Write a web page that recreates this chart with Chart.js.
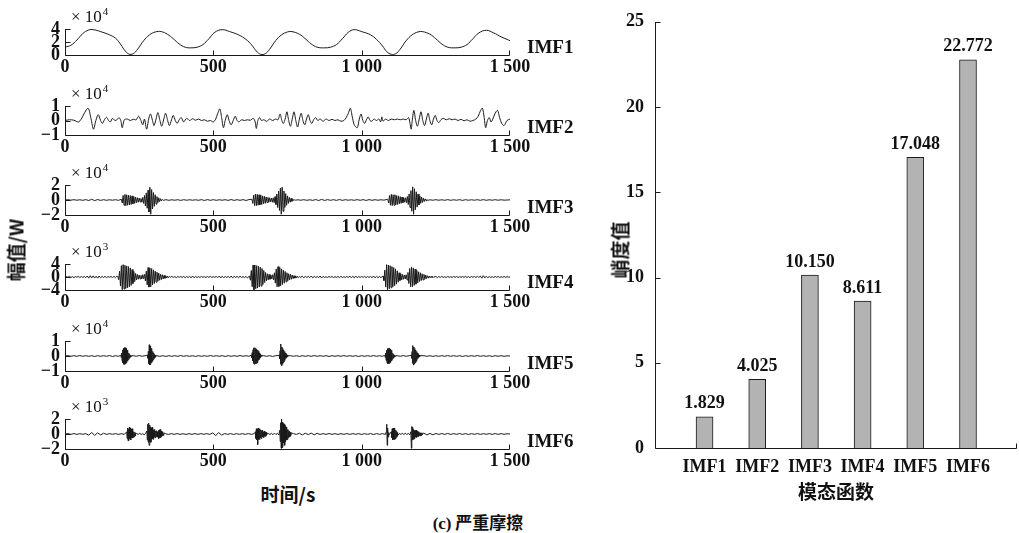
<!DOCTYPE html>
<html>
<head>
<meta charset="utf-8">
<script src="https://cdn.jsdelivr.net/npm/chart.js@4.4.1/dist/chart.umd.min.js"></script>
<style>
  body { margin: 0; background: #fff; width: 1019px; height: 533px; position: relative; overflow: hidden; }
  canvas { position: absolute; }
  .lbl { position: absolute; font-family: 'Noto Sans CJK SC', sans-serif; font-weight: bold; color: #111; white-space: nowrap; line-height: 1; }
  .lbl .en { font-family: 'Liberation Serif', serif; }
</style>
</head>
<body>
<div id="panels"></div>
<canvas id="bar" width="429" height="533" style="left:590px;top:0"></canvas>
<div class="lbl" style="font-size:19px;left:15px;top:250px;transform:translate(-50%,-50%) rotate(-90deg)">幅值/W</div>
<div class="lbl" style="font-size:19px;left:288px;top:493px;transform:translate(-50%,-50%)">时间/s</div>
<div class="lbl" style="font-size:17px;left:478px;top:522px;transform:translate(-50%,-50%)"><span class="en">(c)</span> 严重摩擦</div>
<div class="lbl" style="font-size:19px;left:619px;top:250px;transform:translate(-50%,-50%) rotate(-90deg)">峭度值</div>
<div class="lbl" style="font-size:19px;left:836px;top:490px;transform:translate(-50%,-50%)">模态函数</div>
<script>
// right: kurtosis of each IMF
const imfNames = ['IMF1', 'IMF2', 'IMF3', 'IMF4', 'IMF5', 'IMF6'];
const kurtosis = [1.829, 4.025, 10.150, 8.611, 17.048, 22.772];
const kurtTicks = [0, 5, 10, 15, 20, 25];

// left: time axis
const timeTicks = [0, 500, 1000, 1500];
const timeLabels = ['0', '500', '1 000', '1 500'];

// IMF1 (x10^4)
const imf1T = [0,20,40,60,80,95,120,150,170,185,200,215,230,245,265,285,305,325,345,365,385,405,425,445,465,485,505,530,555,585,610,630,645,660,675,690,710,730,750,765,790,810,830,850,875,895,915,935,955,975,1000,1030,1050,1070,1085,1100,1115,1130,1150,1170,1190,1205,1230,1250,1270,1290,1315,1335,1355,1375,1395,1420,1445,1470,1490,1500];
const imf1V = [1.2,1.5,2.3,3.3,3.85,3.9,3.6,3.1,2.6,1.8,0.8,0.15,0.2,0.9,2.2,3.1,3.55,3.6,3.2,2.5,1.7,1.2,1.1,1.2,1.6,2.5,3.5,3.9,3.6,3.1,2.4,1.5,0.6,0.1,0.2,0.9,2.2,3.1,3.55,3.6,3.2,2.5,1.7,1.2,1.1,1.2,1.6,2.5,3.5,3.9,3.6,3.1,2.4,1.4,0.5,0.1,0.2,0.9,2.2,3.1,3.55,3.6,3.2,2.5,1.7,1.2,1.1,1.2,1.6,2.5,3.4,3.8,3.4,2.8,2.4,2.2];

// IMF2 (x10^4)
const imf2T = [0,15,30,45,55,65,78,88,96,104,112,120,126,133,140,147,153,160,168,175,182,188,193,200,210,220,230,240,248,256,262,268,275,282,288,295,300,307,313,320,326,333,339,346,352,359,365,372,378,385,392,400,410,420,430,440,450,460,470,480,490,500,508,515,522,528,534,540,547,553,560,567,574,580,586,595,605,615,625,635,641,645,650,656,662,670,680,690,700,710,718,725,731,736,742,748,754,760,766,772,778,784,790,796,802,808,814,820,826,832,838,845,852,860,870,880,890,900,910,920,930,940,948,955,962,968,975,985,992,998,1004,1010,1016,1022,1028,1034,1042,1050,1058,1064,1068,1072,1080,1090,1100,1110,1120,1130,1140,1150,1158,1163,1167,1171,1176,1182,1188,1194,1200,1206,1212,1218,1224,1230,1236,1242,1248,1254,1260,1267,1275,1285,1295,1305,1315,1325,1335,1345,1355,1365,1375,1385,1393,1400,1407,1413,1418,1424,1430,1436,1442,1450,1458,1465,1472,1480,1490,1500];
const imf2V = [0,0.05,0.02,-0.1,0.1,0.5,0.85,0.1,-0.6,0,0.4,0,-0.2,0.05,0.22,0,-0.1,0.15,0,0.05,0.2,0,-0.5,0.05,0.1,0,0.08,0.05,0.3,0,-0.3,0.1,-0.6,0.1,0.45,0,-0.35,0.1,0.55,0,-0.4,0.1,0.5,0,-0.35,0.05,0.35,0,-0.2,0.05,0.2,-0.1,0.15,0,0.12,0.02,0.1,0,0.05,-0.05,0,-0.1,0.1,0.5,0.8,0.2,-0.5,0,0.4,0,-0.3,0,0.3,0,-0.1,0.05,0,0.05,0.02,0.15,-0.1,-0.55,0,0.2,0,0.05,-0.05,0.1,0,0.1,0.05,0.45,0,-0.2,0.1,0.6,0,-0.4,0.1,0.6,0,-0.45,0.1,0.5,0,-0.3,0.1,0.4,0,-0.2,0.05,0.2,0,0.1,-0.05,0.1,0,0.08,0,0.05,-0.05,0,0.2,0.5,0.85,0.3,-0.3,-0.5,0.1,0.45,0,-0.2,0.05,0.25,0,-0.05,0.1,0,0.1,-0.1,0.25,-0.05,0.1,0,0.1,0.05,0.1,0.05,0.1,0.05,0.2,-0.2,-0.6,0.1,0.7,0,-0.4,0.1,0.6,0,-0.35,0.1,0.5,0,-0.3,0.1,0.35,0,-0.15,0.05,0.15,0.05,0.12,0.05,0.1,0,0.08,-0.02,0.05,-0.05,0,0.1,0.3,0.65,0.85,0.2,-0.5,0,0.2,-0.1,0.1,0.5,0.7,0.2,-0.2,-0.35,0,0.1];

// IMF3..IMF6: [start time, sample step, values]
const imf3Segs = [
  [0, 10, [0,.03,-.02,.04,-.03,.03,-.04,.05,-.07,.09,-.08,.06,-.05,.04,-.04,.03,-.03,.04,-.05]],
  [190, 3, [.1,-.4,.6,-.7,.75,-.75,.7,-.7,.65,-.65,.6,-.6,.55,-.5,.45,-.45,.4,-.35,.3,-.3,.25,-.25,.2,-.3,.35,-.45,.6,-.8,.95,-1.1,1.3,-1.6,1.7,-1.9,1.4,-1.2,1,-.85,.7,-.55,.45,-.35,.3,-.22,.17,-.12,.08,-.05]],
  [340, 10, [.04,-.04,.03,-.03,.04,-.05,.04,-.03,.03,-.03,.03,-.04,.05,-.06,.05,-.04,.04,-.04,.03,-.03,.04,-.05,.06,-.05,.04,-.04,.05,-.06,.05]],
  [630, 3, [.1,-.45,.65,-.75,.8,-.75,.75,-.7,.7,-.65,.65,-.6,.55,-.5,.5,-.45,.4,-.35,.35,-.3,.3,-.25,.25,-.3,.3,-.35,.45,-.6,.8,-1,1.2,-1.4,1.6,-1.9,1.7,-1.5,1.2,-1,.85,-.7,.55,-.45,.35,-.3,.22,-.18,.12,-.08,.05,-.03]],
  [785, 10, [.03,-.03,.04,-.04,.03,-.05,.06,-.07,.08,-.06,.05,-.04,.04,-.05,.06,-.05,.04,-.03,.03,-.04,.05,-.04,.05,-.06,.05,-.04,.04,-.03,.03,-.02]],
  [1088, 3, [.1,-.4,.6,-.7,.75,-.75,.7,-.7,.7,-.65,.6,-.6,.55,-.5,.45,-.45,.4,-.35,.3,-.3,.3,-.35,.45,-.6,.8,-1,1.25,-1.5,1.75,-1.9,1.5,-1.3,1.1,-.95,.8,-.65,.55,-.45,.4,-.32,.26,-.2,.15,-.1,.07,-.05]],
  [1230, 10, [.03,-.03,.04,-.03,.03,-.04,.05,-.04,.03,-.03,.04,-.05,.04,-.03,.03,-.03,.04,-.04,.05,-.04,.03,-.03,.04,-.03,.03,-.02,0,.02]]
];
const imf4Segs = [
  [0, 5, [0,.15,-.1,.2,-.15,.1,-.2,.15,-.1,.2,-.15,.1,-.1,.15,-.2,.3,-.35,.4,-.3,.35,-.3,.25,-.35,.3,-.25,.2,-.15,.2,-.2,.15,-.1,.15,-.15,.2,-.2,.25]],
  [178, 3, [.2,-.8,1.8,-2.8,3.5,-3.9,3.8,-3.7,3.6,-3.5,3.4,-3.3,3.2,-3,2.8,-2.6,2.3,-2,1.7,-1.4,1.1,-.9,.8,-.7,.6,-.6,.5,-.6,.7,-.5,.8,-1.2,1.8,-2.4,2.9,-3.1,2.8,-3,2.6,-2.4,2.2,-2,1.8,-1.6,1.5,-1.3,1.2,-1,.9,-.8,.7,-.6,.5,-.4,.35,-.3,.25,-.2,.15,-.1]],
  [360, 5, [.2,-.15,.15,-.2,.15,-.1,.15,-.15,.2,-.2,.15,-.15,.2,-.25,.3,-.25,.2,-.2,.15,-.15,.15,-.1,.1,-.15,.15,-.1,.15,-.15,.1,-.1,.15,-.2,.3,-.3,.25,-.2,.15,-.15,.2,-.25,.3,-.25,.2,-.15,.2,-.25,.3,-.2,.15,-.2,.2,-.3]],
  [622, 3, [.3,-1,2,-3,3.7,-3.9,3.7,-3.6,3.5,-3.4,3.3,-3.1,3,-2.8,2.6,-2.3,2,-1.7,1.4,-1.2,1,-.9,.8,-.7,.6,-.6,.7,-.9,1.3,-1.9,2.5,-3,3.2,-2.9,2.9,-2.7,2.5,-2.3,2.1,-1.9,1.7,-1.5,1.3,-1.2,1,-.9,.8,-.7,.6,-.5,.4,-.35,.3,-.25,.2,-.15,.1,-.1]],
  [800, 5, [.2,-.25,.2,-.15,.2,-.2,.3,-.25,.2,-.15,.15,-.2,.3,-.3,.2,-.15,.1,-.15,.15,-.1,.15,-.15,.1,-.1,.15,-.15,.2,-.15,.1,-.15,.2,-.2,.3,-.25,.2,-.25,.3,-.2,.15,-.15,.2,-.15,.2,-.2,.15,-.15,.2,-.25,.3,-.25,.2,-.2,.15,-.2]],
  [1072, 3, [.3,-1.1,2.1,-3.1,3.8,-3.9,3.7,-3.6,3.5,-3.3,3.2,-3,2.9,-2.7,2.5,-2.2,1.9,-1.6,1.3,-1.1,1,-.9,.8,-.7,.6,-.6,.7,-.9,1.4,-2,2.6,-3,3.1,-3,2.8,-2.6,2.4,-2.2,2,-1.8,1.6,-1.4,1.3,-1.1,1,-.9,.8,-.7,.6,-.5,.4,-.35,.3,-.25,.2,-.15,.1,-.1]],
  [1250, 5, [.2,-.2,.15,-.15,.2,-.15,.1,-.15,.15,-.1,.1,-.15,.15,-.1,.15,-.15,.1,-.1,.15,-.15,.2,-.15,.15,-.2,.15,-.1,.15,-.15,.2,-.15,.3,-.35,.4,-.3,.25,-.2,.15,-.15,.1,-.15,.15,-.1,.15,-.15,.1,-.1,.15,-.1,.1,-.05,0]]
];
const imf5Quiet = [.02,-.02,.02,-.03,.02,-.02,.02,-.02,.03,-.02,.02,-.02,.02,-.03,.02,-.02,.02,-.02,.03,-.02,.02,-.02,.02,-.03,.02,-.02,.02,-.02,.03,-.02,.02,-.02];
const imf5Segs = [
  [0, 10, [0,.02,-.02,.02,-.02,.03,-.02,.02,-.02,.02,-.03,.02,-.02,.02,-.02,.03,-.03,.02,-.02]],
  [188, 1.5, [.05,-.1,.2,-.3,.4,-.45,.5,-.55,.55,-.55,.55,-.5,.5,-.45,.4,-.35,.3,-.25,.2,-.15,.1,-.08,.05,-.03,.02]],
  [230, 10, [.02,-.02,.03,-.02,.02]],
  [278, 1.5, [.05,-.15,.3,-.5,.75,-.6,.65,-.55,.5,-.45,.4,-.35,.3,-.25,.2,-.15,.1,-.08,.06,-.04,.02]],
  [310, 10, imf5Quiet],
  [628, 1.5, [.05,-.12,.22,-.32,.42,-.5,.55,-.55,.55,-.5,.5,-.5,.45,-.45,.4,-.35,.3,-.25,.2,-.15,.1,-.08,.05,-.03,.02]],
  [670, 10, [.02,-.02,.02,-.03,.02]],
  [722, 1.5, [.05,-.2,.35,-.55,.8,-.65,.6,-.55,.5,-.45,.4,-.35,.3,-.25,.2,-.15,.1,-.08,.06,-.04,.02]],
  [760, 10, imf5Quiet],
  [1078, 1.5, [.05,-.1,.2,-.3,.38,-.45,.5,-.5,.5,-.5,.5,-.48,.45,-.42,.38,-.33,.28,-.22,.18,-.14,.1,-.07,.05,-.03,.02]],
  [1120, 10, [.02,-.02,.03,-.02,.02]],
  [1167, 1.5, [.05,-.15,.3,-.5,.7,-.6,.6,-.5,.5,-.45,.4,-.35,.3,-.25,.2,-.15,.1,-.08,.06,-.04,.02]],
  [1210, 10, [.02,-.02,.02,-.03,.02,-.02,.02,-.02,.03,-.02,.02,-.02,.02,-.03,.02,-.02,.02,-.02,.03,-.02,.02,-.02,.02,-.03,.02,-.02,.02,-.02,.01,0]]
];
const imf6Segs = [
  [0, 10, [0,.05,-.05,.06,-.05,.05,-.04,.05,-.15,.2,-.18,.15,-.12,.1,-.05,.05,-.04,.05,-.05,.04,-.05]],
  [208, 1.5, [.3,-.6,.8,-.9,.7,-.85,.9,-.6,.75,-.8,.6,-.5,.7,-.55,.4,-.45,.3,-.35,.2,-.25,.15]],
  [242, 5, [.05,-.05,.1,-.08,.06,-.1,.08]],
  [276, 1.5, [.4,-.8,1.3,-1.1,1.45,-1.5,1.2,-1,.9,-1.1,.8,-.7,.9,-.6,.5,-.7,.6,-.45,.5,-.5,.4,-.35,.45,-.4,.3,-.35,.5,-.6,.55,-.5,.6,-.45,.4,-.35,.3,-.25,.2,-.2,.15]],
  [338, 10, [.05,-.06,.05,-.05,.06,-.05,.04,-.06,.05,-.05,.06,-.05,.05,-.04,.05,-.05,.15,-.2,.18,-.15,.06,-.05,.05,-.06,.05,-.05,.04,-.05,.06,-.05,.05]],
  [642, 1.5, [.3,-.6,.7,-.8,.6,-1.4,.8,-.7,.6,-.75,.7,-.5,.55,-.6,.45,-.4,.5,-.35,.3,-.45,.4,-.3,.25,-.3,.2,-.15,.1]],
  [686, 5, [.05,-.06,.08,-.1,.12,-.08,.1,-.12]],
  [724, 1.5, [.5,-1,1.5,-1.9,2,-1.8,1.6,-1.7,1.4,-1.2,1.3,-1.5,1.1,-1,.9,-.8,.7,-.75,.6,-.5,.45,-.4,.35,-.3,.25,-.2,.15]],
  [770, 10, [.05,-.06,.1,-.12,.1,-.08,.12,-.1,.08,-.06,.05,-.05,.06,-.05,.05,-.06,.05,-.05,.06,-.05,.05,-.04,.05,-.06,.05,-.05,.06,-.08,.06,-.05,.05,-.06]],
  [1083, 1.5, [.3,1.3,-1.5,.8,-.4,.2,-.15]],
  [1100, 1.5, [.3,-.5,.7,-.8,.75,-.7,.8,-.75,.6,-.65,.5,-.45,.35,-.3,.2,-.15]],
  [1127, 5, [.06,-.05,.08,-.07,.1,-.06,.08,-.1]],
  [1166, 1.5, [.3,-1.9,1,-.8,.9,-.7,.6,-.65,.5,-.55,.45,-.4,.5,-.45,.35,-.3,.3,-.35,.25,-.2,.2,-.25,.15,-.2,.15,-.1,.1]],
  [1210, 10, [.1,-.12,.08,-.1,.06,-.05,.06,-.05,.08,-.06,.05,-.05,.06,-.05,.05,-.06,.05,-.05,.06,-.05,.05,-.04,.05,-.05,.06,-.05,.05,-.04,.03,0]]
];

function pairs(ts, vs) { return ts.map((t, i) => ({ x: t, y: vs[i] })); }
function expand(segs) {
  const pts = [];
  segs.forEach(([t0, dt, vals]) => vals.forEach((v, i) => pts.push({ x: +(t0 + i * dt).toFixed(2), y: v })));
  return pts;
}
function fmt(v) { return v < 0 ? '\u2212' + Math.abs(v) : String(v); }

Chart.defaults.font.family = "'Liberation Serif', serif";
Chart.defaults.font.weight = 'bold';
Chart.defaults.color = '#111';

// axis lines with inward ticks
const axisLines = {
  id: 'axisLines',
  afterDraw(chart, args, o) {
    const { ctx, chartArea: a, scales: { x, y } } = chart;
    const L = Math.round(a.left) + 0.5, B = Math.round(a.bottom) + 0.5, R = Math.round(a.right) - 0.5;
    ctx.save();
    ctx.strokeStyle = '#1a1a1a';
    ctx.lineWidth = 1;
    ctx.beginPath();
    ctx.moveTo(L, Math.round(a.top));
    ctx.lineTo(L, B);
    ctx.lineTo(R, B);
    y.ticks.forEach(t => { const p = Math.round(y.getPixelForValue(t.value)) + 0.5; ctx.moveTo(L, p); ctx.lineTo(L + 5, p); });
    const xs = o.xTicks ? x.ticks.map(t => t.value) : [x.max];
    xs.forEach(v => { const p = Math.min(Math.round(x.getPixelForValue(v)) + 0.5, R); ctx.moveTo(p, B); ctx.lineTo(p, B - 5); });
    ctx.stroke();
    ctx.restore();
  }
};

// "x 10^n" and IMF name beside each panel
const panelDeco = {
  id: 'panelDeco',
  afterDraw(chart, args, o) {
    const { ctx, chartArea: a } = chart;
    ctx.save();
    ctx.fillStyle = '#111';
    ctx.textBaseline = 'middle';
    ctx.font = "17px 'Liberation Serif'";
    ctx.fillText('\u00d7 10', a.left + 6, a.top - 11);
    const w = ctx.measureText('\u00d7 10').width;
    ctx.font = "11px 'Liberation Serif'";
    ctx.fillText(o.exp, a.left + 7 + w, a.top - 17);
    ctx.font = "bold 19px 'Liberation Serif'";
    ctx.fillText(o.name, a.right + 17, a.bottom - 7);
    ctx.restore();
  }
};

const panels = [
  { name: 'IMF1', exp: '4', min: 0, max: 4, ticks: [0, 2, 4], top: 29, bottom: 55, data: pairs(imf1T, imf1V), tension: 0.4 },
  { name: 'IMF2', exp: '4', min: -1, max: 1, ticks: [-1, 0, 1], top: 106, bottom: 135, data: pairs(imf2T, imf2V), tension: 0.3 },
  { name: 'IMF3', exp: '4', min: -2, max: 2, ticks: [-2, 0, 2], top: 185, bottom: 215, data: expand(imf3Segs), tension: 0 },
  { name: 'IMF4', exp: '3', min: -4, max: 4, ticks: [-4, 0, 4], top: 264, bottom: 290, data: expand(imf4Segs), tension: 0 },
  { name: 'IMF5', exp: '4', min: -1, max: 1, ticks: [-1, 0, 1], top: 341, bottom: 371, data: expand(imf5Segs), tension: 0 },
  { name: 'IMF6', exp: '3', min: -2, max: 2, ticks: [-2, 0, 2], top: 419, bottom: 449, data: expand(imf6Segs), tension: 0 }
];

const holder = document.getElementById('panels');
panels.forEach(p => {
  const cv = document.createElement('canvas');
  const h = (p.bottom - p.top) + 24 + 26;
  cv.width = 590;
  cv.height = h;
  cv.style.left = '0px';
  cv.style.top = (p.top - 24) + 'px';
  holder.appendChild(cv);

  new Chart(cv, {
    type: 'line',
    data: {
      datasets: [{
        data: p.data,
        borderColor: '#1a1a1a',
        borderWidth: 1,
        pointRadius: 0,
        tension: p.tension,
        fill: false
      }]
    },
    options: {
      responsive: false,
      animation: false,
      layout: { padding: { top: 24, right: 80, left: 0, bottom: 0 } },
      plugins: {
        legend: { display: false },
        tooltip: { enabled: false },
        axisLines: { xTicks: true },
        panelDeco: { exp: p.exp, name: p.name }
      },
      scales: {
        x: {
          type: 'linear', min: 0, max: 1500,
          grid: { display: false, drawTicks: false },
          border: { display: false },
          afterBuildTicks: s => { s.ticks = timeTicks.map(v => ({ value: v })); },
          afterFit: s => { s.height = 26; },
          ticks: { autoSkip: false, maxRotation: 0, padding: 2, font: { size: 18 },
                   callback: v => timeLabels[timeTicks.indexOf(v)] }
        },
        y: {
          min: p.min, max: p.max,
          grid: { display: false, drawTicks: false },
          border: { display: false },
          afterBuildTicks: s => { s.ticks = p.ticks.map(v => ({ value: v })); },
          afterFit: s => { s.width = 65; },
          ticks: { autoSkip: false, padding: 5, font: { size: 18 }, callback: v => fmt(v) }
        }
      }
    },
    plugins: [axisLines, panelDeco]
  });
});

// value above each bar
const barValues = {
  id: 'barValues',
  afterDatasetsDraw(chart) {
    const { ctx } = chart;
    ctx.save();
    ctx.fillStyle = '#111';
    ctx.font = "bold 18px 'Liberation Serif'";
    ctx.textAlign = 'center';
    ctx.textBaseline = 'bottom';
    chart.getDatasetMeta(0).data.forEach((bar, i) => {
      ctx.fillText(kurtosis[i].toFixed(3), bar.x, bar.y - 4);
    });
    ctx.restore();
  }
};

new Chart(document.getElementById('bar'), {
  type: 'bar',
  data: {
    datasets: [{
      data: kurtosis.map((v, i) => ({ x: i + 1, y: v })),
      backgroundColor: '#b3b3b3',
      borderColor: '#1a1a1a',
      borderWidth: 1,
      borderSkipped: 'start',
      barThickness: 17
    }]
  },
  options: {
    responsive: false,
    animation: false,
    layout: { padding: { top: 20, right: 2, left: 0, bottom: 0 } },
    plugins: {
      legend: { display: false },
      tooltip: { enabled: false },
      axisLines: { xTicks: false }
    },
    scales: {
      x: {
        type: 'linear', min: 0.06, max: 6.93, offset: false,
        grid: { display: false, drawTicks: false },
        border: { display: false },
        afterBuildTicks: s => { s.ticks = imfNames.map((n, i) => ({ value: i + 1 })); },
        afterFit: s => { s.height = 85; },
        ticks: { autoSkip: false, maxRotation: 0, padding: 9, font: { size: 18 },
                 callback: v => imfNames[v - 1] }
      },
      y: {
        min: 0, max: 25,
        grid: { display: false, drawTicks: false },
        border: { display: false },
        afterBuildTicks: s => { s.ticks = kurtTicks.map(v => ({ value: v })); },
        afterFit: s => { s.width = 65; },
        ticks: { autoSkip: false, padding: 11, font: { size: 18 } }
      }
    }
  },
  plugins: [axisLines, barValues]
});
</script>
</body>
</html>
